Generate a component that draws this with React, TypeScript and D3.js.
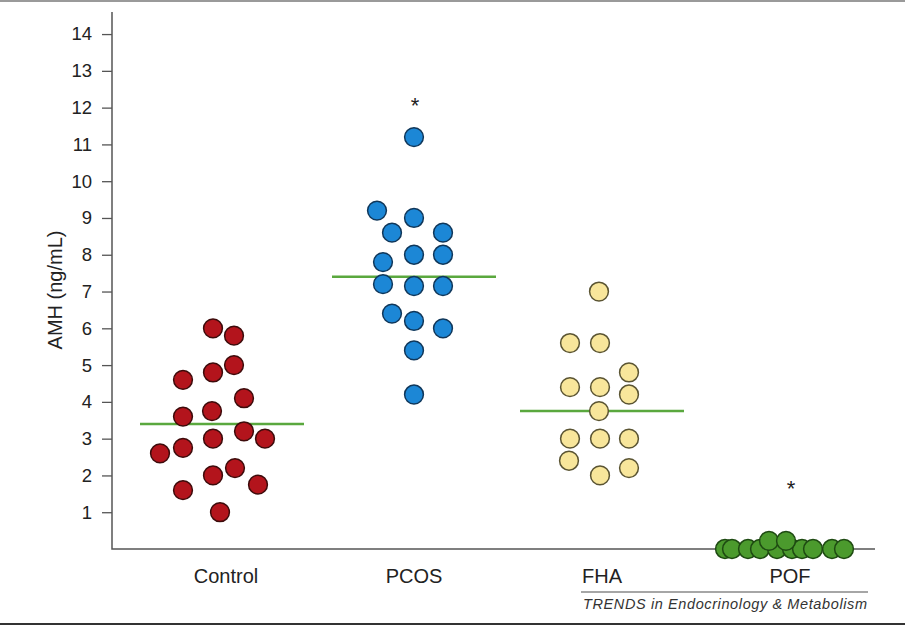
import React, { useEffect, useRef } from 'react';
import * as d3 from 'd3';

// groups along the x axis
const groups = ['Control', 'PCOS', 'FHA', 'POF'];

// AMH values (ng/mL) per group
const controlValues = [6.0, 5.8, 4.6, 4.8, 5.0, 4.1, 3.6, 3.75, 3.2, 3.0, 3.0, 2.75, 2.6, 2.0, 2.2, 1.75, 1.6, 1.0];
const pcosValues = [11.2, 9.2, 9.0, 8.6, 8.6, 7.8, 8.0, 8.0, 7.2, 7.15, 7.15, 6.4, 6.2, 6.0, 5.4, 4.2];
const fhaValues = [7.0, 5.6, 5.6, 4.8, 4.4, 4.4, 4.2, 3.75, 3.0, 3.0, 3.0, 2.4, 2.0, 2.2];
const pofValues = [0, 0, 0, 0, 0, 0, 0, 0, 0, 0, 0.22, 0.22];

// horizontal jitter of each dot (px from the group centre)
const controlJitter = [-13, 8, -43, -13, 8, 18, -43, -14, 18, 39, -13, -43, -66, -13, 9, 32, -43, -6];
const pcosJitter = [0, -37, 0, -22, 29, -31, 0, 29, -31, 0, 29, -22, 0, 29, 0, 0];
const fhaJitter = [-3, -32, -2, 27, -32, -2, 27, -3, -32, -2, 27, -33, -2, 27];
const pofJitter = [-65, -58, -42, -30, -13, 2, 12, 23, 42, 54, -21, -4];

// group medians (POF has none drawn)
const medians: (number | null)[] = [3.4, 7.4, 3.75, null];
// groups marked as significant, with the level the star sits at
const starred = ['PCOS', 'POF'];
const starLevels = [11.85, 1.45];

const yTicks = d3.range(1, 15);

const fills = ['#b3141c', '#1c87d6', '#f8e69b', '#4b9a2d'];
const strokes = ['#3d0b0b', '#10375a', '#5a5432', '#1e4a12'];

const App = () => {
  const ref = useRef<SVGSVGElement>(null);

  useEffect(() => {
    const width = 905;
    const height = 626;
    const margin = { left: 112, right: 30, top: 12, bottom: 77 };
    const svg = d3.select(ref.current);
    svg.selectAll('*').remove();

    const font = '"Liberation Sans", Arial, Helvetica, sans-serif';

    const x = d3.scalePoint<string>().domain(groups).range([226, 790]);
    const y = d3
      .scaleLinear()
      .domain([0, 14.6])
      .range([height - margin.bottom, margin.top]);

    // frame lines of the figure panel
    svg.append('line').attr('x1', 0).attr('x2', width).attr('y1', 1).attr('y2', 1)
      .attr('stroke', '#9a9a9a').attr('stroke-width', 2);
    svg.append('line').attr('x1', 0).attr('x2', width).attr('y1', 624).attr('y2', 624)
      .attr('stroke', '#333').attr('stroke-width', 2);

    // y axis
    const yAxis = svg
      .append('g')
      .attr('transform', `translate(${margin.left},0)`)
      .call(d3.axisLeft(y).tickValues(yTicks).tickSize(10).tickPadding(10).tickSizeOuter(0));
    yAxis.select('.domain').remove();
    yAxis.selectAll('line').attr('stroke', '#555').attr('stroke-width', 1.3);
    yAxis.selectAll('text').attr('font-family', font).attr('font-size', 18.5).attr('fill', '#222');

    svg.append('path')
      .attr('d', `M${margin.left},${margin.top}V${y(0)}H${width - margin.right}`)
      .attr('fill', 'none')
      .attr('stroke', '#555')
      .attr('stroke-width', 1.5);

    svg.append('text')
      .attr('transform', 'rotate(-90)')
      .attr('x', -290)
      .attr('y', 62)
      .attr('text-anchor', 'middle')
      .attr('font-family', font)
      .attr('font-size', 20)
      .attr('fill', '#222')
      .text('AMH (ng/mL)');

    // category labels
    svg.append('g')
      .selectAll('text')
      .data(groups)
      .join('text')
      .attr('x', (d) => (x(d) ?? 0))
      .attr('y', 583)
      .attr('text-anchor', 'middle')
      .attr('font-family', font)
      .attr('font-size', 20)
      .attr('fill', '#222')
      .text((d) => d);

    // medians
    groups.forEach((g, i) => {
      const m = medians[i];
      if (m === null) return;
      const cx = (x(g) ?? 0) - (i === 0 ? 4 : 0);
      svg.append('line')
        .attr('x1', cx - 82)
        .attr('x2', cx + 82)
        .attr('y1', y(m))
        .attr('y2', y(m))
        .attr('stroke', '#5aa83e')
        .attr('stroke-width', 2.5);
    });

    const sets = [
      { values: controlValues, jitter: controlJitter },
      { values: pcosValues, jitter: pcosJitter },
      { values: fhaValues, jitter: fhaJitter },
      { values: pofValues, jitter: pofJitter },
    ];

    sets.forEach((s, i) => {
      const cx = x(groups[i]) ?? 0;
      svg.append('g')
        .selectAll('circle')
        .data(s.values)
        .join('circle')
        .attr('cx', (_, j) => cx + s.jitter[j])
        .attr('cy', (d) => y(d))
        .attr('r', 9.4)
        .attr('fill', fills[i])
        .attr('stroke', strokes[i])
        .attr('stroke-width', 1.5);
    });

    // significance stars
    svg.append('g')
      .selectAll('text')
      .data(starred)
      .join('text')
      .attr('x', (d) => (x(d) ?? 0) + 1)
      .attr('y', (_, i) => y(starLevels[i]))
      .attr('text-anchor', 'middle')
      .attr('font-family', font)
      .attr('font-size', 22)
      .attr('fill', '#222')
      .text('*');

    // journal footer
    svg.append('line').attr('x1', 581).attr('x2', 868).attr('y1', 592).attr('y2', 592)
      .attr('stroke', '#888').attr('stroke-width', 1.3);
    svg.append('text')
      .attr('x', 583)
      .attr('y', 609)
      .attr('font-family', font)
      .attr('font-size', 14.5)
      .attr('font-style', 'italic')
      .attr('fill', '#333')
      .attr('textLength', 284)
      .text('TRENDS in Endocrinology & Metabolism');
  }, []);

  return (
    <svg
      ref={ref}
      width={905}
      height={626}
      style={{ position: 'absolute', left: 0, top: 0, background: '#fff' }}
    />
  );
};

export default App;
